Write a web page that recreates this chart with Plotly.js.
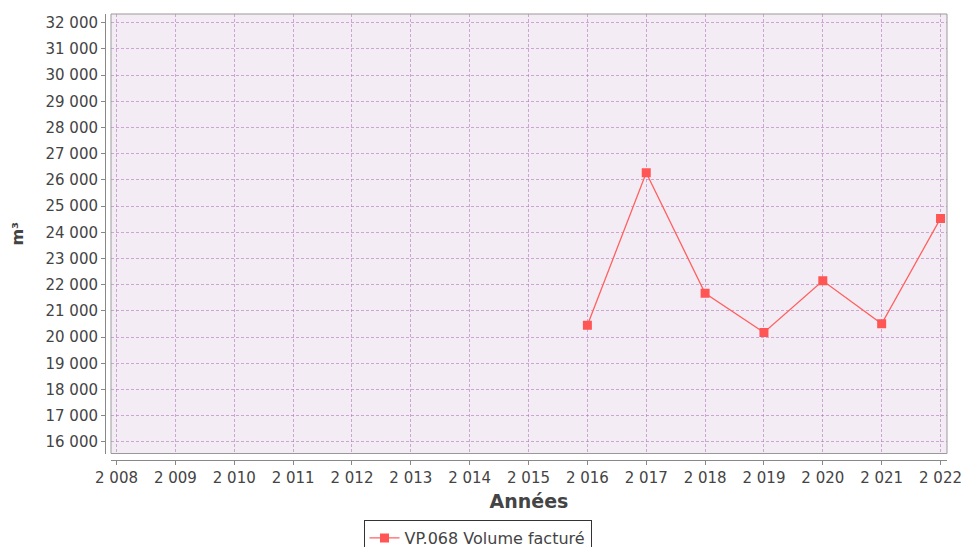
<!DOCTYPE html>
<html>
<head>
<meta charset="utf-8">
<script src="https://cdn.plot.ly/plotly-3.0.1.min.js"></script>
<style>html,body{margin:0;padding:0;background:#fff;}#chart{width:964px;height:547px;}</style>
</head>
<body>
<div id="chart"></div>
<script>
const years = [2016, 2017, 2018, 2019, 2020, 2021, 2022];
const volumes = [20450, 26270, 21670, 20180, 22150, 20510, 24530];
const seriesName = "VP.068 Volume facturé";
const xTitle = "Années";
const yTitle = "m³";

const W = 964, H = 547;
const mL = 105, mR = 17, mT = 14, mB = 87;
const pw = W - mL - mR, ph = H - mT - mB;
const xDom0 = 6 / pw, yDom0 = 6.5 / ph;

const fontFam = "DejaVu Sans, sans-serif";
const trace = {
  x: years, y: volumes, name: seriesName, type: "scatter", mode: "lines+markers",
  line: {color: "#ff6060", width: 1.3},
  marker: {symbol: "square", size: 9, color: "#ff5555"},
  showlegend: true
};

const gridCol = "rgba(175,120,185,0.6)";
const layout = {
  width: W, height: H,
  margin: {l: mL, r: mR, t: mT, b: mB, pad: 0, autoexpand: false},
  paper_bgcolor: "#ffffff",
  plot_bgcolor: "#f4ecf4",
  separators: ", ",
  font: {family: fontFam, size: 15, color: "#444444"},
  xaxis: {
    domain: [xDom0, 1], anchor: "free", position: 0,
    range: [2007.906, 2022.11], tickmode: "linear", tick0: 2008, dtick: 1,
    tickformat: ",d", automargin: false,
    showline: true, linecolor: "#888888", linewidth: 1,
    ticks: "outside", ticklen: 4, tickcolor: "#888888",
    showgrid: true, gridcolor: gridCol, griddash: "3px,2px", gridwidth: 1,
    zeroline: false,
    tickfont: {family: fontFam, size: 15, color: "#444444"},
    title: {text: xTitle, font: {family: fontFam, size: 19, color: "#444444", weight: "bold"}, standoff: 8}
  },
  yaxis: {
    domain: [yDom0, 1], anchor: "free", position: 0,
    range: [15560, 32330], tickmode: "linear", tick0: 16000, dtick: 1000,
    tickformat: ",d", automargin: false,
    showline: true, linecolor: "#888888", linewidth: 1,
    ticks: "outside", ticklen: 4, tickcolor: "#888888",
    showgrid: true, gridcolor: gridCol, griddash: "3px,2px", gridwidth: 1,
    zeroline: false,
    tickfont: {family: fontFam, size: 15, color: "#444444"},
    title: {text: yTitle, font: {family: fontFam, size: 16, color: "#444444", weight: "bold"}, standoff: 16}
  },
  shapes: [
    {type: "rect", xref: "paper", yref: "paper", x0: xDom0, x1: 1, y0: yDom0, y1: 1,
     line: {color: "#999999", width: 1}, fillcolor: "rgba(0,0,0,0)", layer: "above"}
  ],
  legend: {
    orientation: "h", x: 0.4424, xanchor: "center", y: -0.1345, yanchor: "top",
    bgcolor: "#ffffff", bordercolor: "#333333", borderwidth: 1,
    font: {family: fontFam, size: 16, color: "#444444"},
    itemwidth: 30, tracegroupgap: 0
  },
  showlegend: true
};

Plotly.newPlot("chart", [trace], layout, {displayModeBar: false, staticPlot: true});
</script>
</body>
</html>
